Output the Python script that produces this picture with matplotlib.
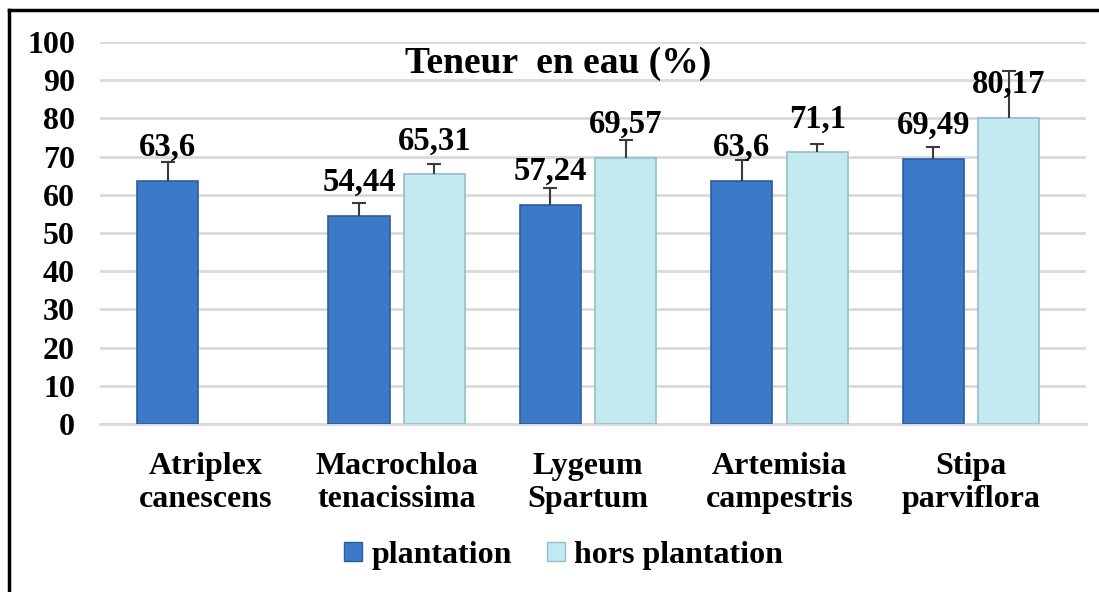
import matplotlib.pyplot as plt
import numpy as np
from matplotlib.lines import Line2D

especes = ["Atriplex\ncanescens", "Macrochloa\ntenacissima", "Lygeum\nSpartum",
           "Artemisia\ncampestris", "Stipa\nparviflora"]
plantation = [63.6, 54.44, 57.24, 63.6, 69.49]
hors_plantation = [np.nan, 65.31, 69.57, 71.1, 80.17]
err_plantation = [5.0, 3.3, 4.5, 5.5, 3.0]
err_hors = [np.nan, 2.7, 4.7, 2.2, 12.2]
lab_plantation = ["63,6", "54,44", "57,24", "63,6", "69,49"]
lab_hors = ["", "65,31", "69,57", "71,1", "80,17"]

plt.rcParams['font.family'] = ['Liberation Serif', 'DejaVu Serif']
plt.rcParams['font.weight'] = 'bold'

fig = plt.figure(figsize=(10.99, 5.92), dpi=100)
ax = fig.add_axes([0.091, 0.284, 0.897, 0.645])

x = np.arange(len(especes))
w = 0.32
d = 0.197
c1, c2 = '#3b7ac9', '#c3e9f1'

ax.bar(x - d, plantation, w, color=c1, edgecolor='#2b5d9e', linewidth=1.2, zorder=3)
ax.bar(x + d, hors_plantation, w, color=c2, edgecolor='#93bfca', linewidth=1.2, zorder=3)

z = np.zeros(len(x))
for xs, ys, es in [(x - d, plantation, err_plantation), (x + d, hors_plantation, err_hors)]:
    eb = ax.errorbar(xs, ys, yerr=[z, es], fmt='none', ecolor='#3a3a3a',
                     elinewidth=1.5, capsize=5, capthick=1.5, zorder=4)
    eb[1][0].set_visible(False)  # pas de trait en bas

for xi, v, t in zip(x - d, plantation, lab_plantation):
    ax.annotate(t, (xi, v), xytext=(0, 13), textcoords='offset points', ha='center',
                va='bottom', fontsize=23.5, fontweight='bold', zorder=5)
for xi, v, t in zip(x + d, hors_plantation, lab_hors):
    if t:
        ax.annotate(t, (xi, v), xytext=(0, 13), textcoords='offset points', ha='center',
                    va='bottom', fontsize=23.5, fontweight='bold', zorder=5)

ax.set_ylim(0, 100)
ax.set_xlim(-0.55, 4.6)
ax.set_yticks(np.arange(0, 101, 10))
ax.yaxis.grid(True, color='#d9d9d9', linewidth=2, zorder=0)
ax.set_axisbelow(True)
for s in ['top', 'right', 'left']:
    ax.spines[s].set_visible(False)
ax.spines['bottom'].set_color('#d9d9d9')
ax.spines['bottom'].set_linewidth(2)
ax.tick_params(axis='y', length=0, pad=18, labelsize=23)
ax.tick_params(axis='x', length=0, pad=20, labelsize=23)
ax.set_xticks(x)
ax.set_xticklabels(especes, linespacing=1.2)
for lbl in ax.get_xticklabels() + ax.get_yticklabels():
    lbl.set_fontweight('bold')

ax.text(0.465, 0.945, "Teneur  en eau (%)", transform=ax.transAxes, ha='center', va='center',
        fontsize=27, fontweight='bold')

handles = [plt.Rectangle((0, 0), 1, 1, fc=c1, ec='#2b5d9e'),
           plt.Rectangle((0, 0), 1, 1, fc=c2, ec='#93bfca')]
fig.legend(handles, ["plantation", "hors plantation"], loc='center', bbox_to_anchor=(0.513, 0.062),
           ncol=2, frameon=False, prop={'size': 23, 'weight': 'bold'},
           handlelength=0.55, handleheight=0.55, handletextpad=0.3, columnspacing=1.1)

fig.add_artist(Line2D([0.008, 0.008], [0, 0.983], color='black', linewidth=2.5, transform=fig.transFigure))
fig.add_artist(Line2D([0.008, 1.0], [0.983, 0.983], color='black', linewidth=2.5, transform=fig.transFigure))

fig.savefig('out.png', dpi=100)
